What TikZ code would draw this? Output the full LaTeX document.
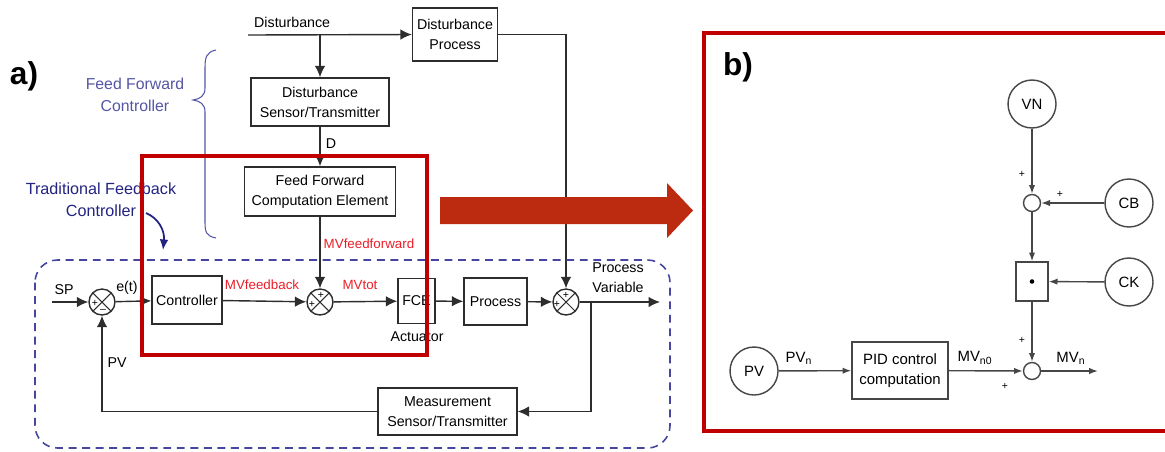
\documentclass[tikz,border=0pt]{standalone}
\usepackage{fontspec}
\setmainfont{Liberation Sans}
\usetikzlibrary{positioning}
\usetikzlibrary{arrows.meta}
\usetikzlibrary{calc}

\definecolor{linegray}{RGB}{45,45,45}
\definecolor{bgray}{RGB}{70,70,70}
\definecolor{framered}{RGB}{192,0,0}
\definecolor{bigred}{RGB}{188,42,16}
\definecolor{dashblue}{RGB}{70,70,160}
\definecolor{ffblue}{RGB}{85,85,165}
\definecolor{fbblue}{RGB}{35,35,130}
\definecolor{mvred}{RGB}{235,30,40}

\newcommand{\blkfont}{\fontsize{8.1}{11.3}\selectfont}
\newcommand{\lblfont}{\fontsize{7.6}{9}\selectfont}
\newcommand{\bigfont}{\fontsize{18}{20}\selectfont\bfseries}
\newcommand{\pidfont}{\fontsize{8.5}{11.3}\selectfont}

\tikzset{
  blk/.style={draw=linegray, line width=0.8pt, inner sep=0pt, align=center, font=\blkfont},
  summer/.style={circle, draw=linegray, line width=0.8pt, minimum size=0.52cm, inner sep=0pt,
    path picture={\draw[linegray, line width=0.6pt]
      (path picture bounding box.north west) -- (path picture bounding box.south east)
      (path picture bounding box.north east) -- (path picture bounding box.south west);}},
  sig/.style={font=\fontsize{6}{6}\selectfont, inner sep=0pt},
  wire/.style={linegray, line width=0.8pt, -{Latex[length=6.5pt,width=6pt]}},
  mvlbl/.style={font=\lblfont, text=mvred},
  bcirc/.style={circle, draw=bgray, line width=0.8pt, minimum size=0.96cm, inner sep=0pt, font=\pidfont},
  bsum/.style={circle, draw=bgray, line width=0.8pt, minimum size=0.34cm, inner sep=0pt},
  bwire/.style={bgray, line width=0.8pt, -{Latex[length=5pt,width=3.6pt]}},
  frame/.style={framered, line width=2.8pt}
}

\begin{document}
\begin{tikzpicture}[x=0.02cm, y=-0.02cm]
\useasboundingbox (0,0) rectangle (1165,451);

% ---- a) feed forward + feedback loop
\node[font=\bigfont] (la) at (24,76) {a)};

\node[blk, minimum width=1.7cm, minimum height=1.06cm] (dproc) at (455,34.5) {Disturbance\\Process};
\node[blk, minimum width=2.76cm, minimum height=0.96cm] (sens) at (320,102) {Disturbance\\Sensor/Transmitter};
\node[blk, minimum width=3.02cm, minimum height=0.98cm] (ffce) at (320,191.5) {Feed Forward\\Computation Element};
\node[blk, minimum width=1.4cm, minimum height=0.96cm] (ctrl) at (187,300) {Controller};
\node[blk, minimum width=0.74cm, minimum height=0.9cm] (fce) at (416.5,301) {FCE};
\node[blk, minimum width=1.26cm, minimum height=0.94cm] (proc) at (495.5,301.5) {Process};
\node[blk, minimum width=2.78cm, minimum height=0.94cm] (meas) at (447.5,411.5) {Measurement\\Sensor/Transmitter};

\node[summer] (s1) at (102,302) {};
\node[summer] (s2) at (320,302) {};
\node[summer] (s3) at (566,302) {};

\coordinate (din) at (248,35);
\coordinate (sp) at (52,302);
\coordinate (br) at (591,302);
\coordinate (pvout) at (660,302);

\node[font=\blkfont, anchor=west] (dlbl) at (248,22) {Disturbance};
\node[font=\blkfont] (dd) at (331,144) {D};
\node[font=\blkfont] (splbl) at (64,290) {SP};
\node[font=\blkfont] (etlbl) at (127,288) {e(t)};
\node[font=\blkfont] (pvlbl) at (117,363) {PV};
\node[font=\blkfont] (actlbl) at (417,337) {Actuator};
\node[font=\blkfont, align=center] (pvar) at (618,278) {Process\\Variable};
\node[mvlbl] (mvfb) at (262,285) {MVfeedback};
\node[mvlbl] (mvff) at (369,244) {MVfeedforward};
\node[mvlbl] (mvtot) at (360,285) {MVtot};

\node[sig] at (95,303) {+};
\node[sig] at (103,311) {--};
\node[sig] at (312,304) {+};
\node[sig] at (321,295) {+};
\node[sig] at (557,304) {+};
\node[sig] at (566,295) {+};

\draw[wire] (din) -- (dproc.west);
\draw[wire] (sens.north |- din) -- (sens.north);
\draw[wire] (sens) -- (ffce);
\draw[wire] (ffce) -- (s2);
\draw[wire] (dproc.east) -| (s3.north);
\draw[wire] (sp) -- (s1);
\draw[wire] (s1) -- (ctrl);
\draw[wire] (ctrl) -- (s2);
\draw[wire] (s2) -- (fce);
\draw[wire] (fce) -- (proc);
\draw[wire] (proc) -- (s3);
\draw[wire] (s3) -- (pvout);
\draw[wire] (br) |- (meas.east);
\draw[wire] (meas.west) -| (s1.south);

% dashed feedback boundary
\draw[dashblue, line width=0.9pt, dash pattern=on 4.5pt off 3.2pt, rounded corners=0.45cm] (35,260) rectangle (670,448);

% brace and blue captions
\node[font=\fontsize{9}{12.5}\selectfont, text=ffblue, align=center] (ffc) at (135,95) {Feed Forward\\Controller};
\draw[ffblue, line width=0.6pt] (216,50) .. controls (206,52) and (205,58) .. (205,68)
  -- (205,88) .. controls (205,96) and (200,99) .. (193,100)
  .. controls (200,101) and (205,104) .. (205,112)
  -- (205,222) .. controls (205,232) and (206,236) .. (216,238);
\node[font=\fontsize{9.2}{12.5}\selectfont, text=fbblue, align=center] (tfc) at (101,200) {Traditional Feedback\\Controller};
\draw[fbblue, line width=1pt, -{Latex[length=6pt,width=5pt]}] (146,213) .. controls (158,218) and (165,230) .. (163,250);

% zoom frame
\draw[frame] (142,156) rectangle (427,355);

% big arrow to b)
\fill[bigred] (440,197) -- (667,197) -- (667,183) -- (693,210.5) -- (667,238) -- (667,224) -- (440,224) -- cycle;

% ---- b) PID with bias and gain
\draw[frame] (1170,33) -- (704,33) -- (704,431) -- (1170,431);
\node[font=\bigfont] (lb) at (738,67) {b)};

\node[bcirc] (vn) at (1032,104) {VN};
\node[bcirc] (cb) at (1129,203) {CB};
\node[bcirc] (ck) at (1129,282) {CK};
\node[bcirc] (pv) at (754,371) {PV};
\node[bsum] (a1) at (1032,203) {};
\node[draw=bgray, line width=0.8pt, minimum width=0.64cm, minimum height=0.78cm, inner sep=0pt] (mul) at (1032,281.5) {};
\fill[black] (mul.center) circle (1.3pt);
\node[draw=bgray, line width=0.8pt, minimum width=1.92cm, minimum height=1.14cm, inner sep=0pt, align=center, font=\pidfont] (pid) at (900,370.5) {PID control\\computation};
\node[bsum] (a2) at (1032,371) {};
\coordinate (mvout) at (1098,371);

\node[font=\pidfont] (pvn) at (799,358) {PV\textsubscript{n}};
\node[font=\pidfont] (mvn0) at (975,358) {MV\textsubscript{n0}};
\node[font=\pidfont] (mvn) at (1071,358) {MV\textsubscript{n}};
\node[sig] at (1022,174) {+};
\node[sig] at (1060,194) {+};
\node[sig] at (1022,340) {+};
\node[sig] at (1005,386) {+};

\draw[bwire] (vn) -- (a1);
\draw[bwire] (cb) -- (a1);
\draw[bwire] (a1) -- (mul);
\draw[bwire] (ck) -- (mul);
\draw[bwire] (mul) -- (a2);
\draw[bwire] (pv) -- (pid);
\draw[bwire] (pid) -- (a2);
\draw[bwire] (a2) -- (mvout);
\end{tikzpicture}
\end{document}
